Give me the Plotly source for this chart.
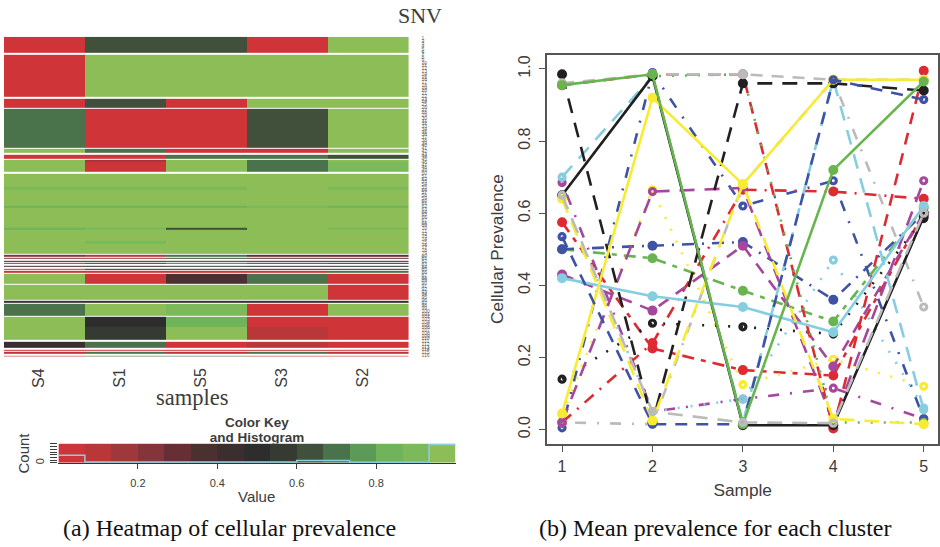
import plotly.graph_objects as go

W, H = 940, 547

# ---------- heatmap data ----------
samples_order = ["S4", "S1", "S5", "S3", "S2"]
row_labels = [str(i) for i in range(1, 117)]
band_heights = [16.5, 1.5, 42.5, 1.5, 9, 1.3, 39.7, 1, 4, 1.7, 4.3, 1, 2, 10, 1.7,
                13.3, 3, 16, 1.7, 20.3, 2, 11, 3, 10.3, 0.7,
                2.5, 1.2, 1, 1.3, 1, 1.5, 1, 1.5, 1.5, 1.5, 1, 1.5, 1.5, 1.3,
                9.7, 1, 15, 1.5, 1.5, 1.2, 12.1, 1.4, 10.3, 13, 1.5, 6.5, 1.7, 1.3, 1, 2, 1.5, 1]
heat_s4 = [.03, None, .03, None, .03, None, .70, None, .97, None, .03, None, .97, .97, None,
           .97, .90, .97, .83, .97, .83, .97, .97, .97, None,
           .23, None, .23, None, .50, None, .17, None, .43, None, .03, None, .03, None,
           .97, None, .97, None, .43, None, .70, None, .97, .97, None, .43, None, .03, None, .10, None, .03]
heat_s1 = [.63, None, .97, None, .63, None, .03, None, .70, None, .03, None, .17, .03, None,
           .97, .90, .97, .83, .97, .90, .97, .90, .97, None,
           .10, None, .17, None, .50, None, .57, None, .50, None, .50, None, .03, None,
           .03, None, .97, None, .43, None, .97, None, .50, .57, None, .70, None, .03, None, .70, None, .70]
heat_s5 = [.63, None, .97, None, .03, None, .03, None, .03, None, .70, None, .97, .97, None,
           .97, .90, .97, .83, .97, .63, .97, .97, .97, None,
           .70, None, .63, None, .57, None, .70, None, .57, None, .50, None, .03, None,
           .37, None, .97, None, .43, None, .90, None, .83, .97, None, .03, None, .03, None, .10, None, .70]
heat_s3 = [.03, None, .97, None, .97, None, .63, None, .03, None, .70, None, .70, .70, None,
           .97, .97, .97, .90, .97, .97, .97, .97, .97, None,
           .30, None, .30, None, .50, None, .30, None, .50, None, .50, None, .03, None,
           .70, None, .97, None, .43, None, .03, None, .03, .10, None, .10, None, .03, None, .70, None, .03]
heat_s2 = [.97, None, .97, None, .97, None, .97, None, .97, None, .63, None, .97, .90, None,
           .97, .90, .97, .83, .97, .90, .97, .97, .97, None,
           .30, None, .30, None, .50, None, .43, None, .50, None, .43, None, .70, None,
           .03, None, .03, None, .43, None, .97, None, .03, .03, None, .03, None, .03, None, .10, None, .03]

# ---------- colour key data ----------
key_colors = ["#CF3439", "#B93639", "#9F383B", "#84353A", "#672F33", "#4A3130", "#3A2E2F", "#2D2D2D",
              "#353B33", "#40503A", "#4A734B", "#5B9A57", "#6FB45A", "#7BB95B", "#8CBD57"]
key_values = [.03, .10, .17, .23, .30, .37, .43, .50, .57, .63, .70, .77, .83, .90, .97]
hist_counts = [.40, .05, .05, .05, .05, .05, .05, .05, .05, .13, .13, .03, .03, .03, .95, .95]
key_ticks = [0.2, 0.4, 0.6, 0.8]

# ---------- prevalence series: sample 1..5 ----------
samples = [1, 2, 3, 4, 5]
red_dash = [.955, .985, .985, .003, .995]
red_twodash = [.575, .225, .165, .15, .60]
red_dotdash = [.02, .24, .665, .66, .64]
blue_dotdash = [.005, .99, .62, .69, .03]
blue_longdot = [.50, .51, .52, .36, .60]
blue_dash = [.535, .015, .015, .97, .915]
purple_long = [.43, .33, .51, .175, .60]
purple_two = [.02, .66, .67, .02, .69]
purple_dot = [.685, .05, .085, .115, .03]
yellow_dot = [.04, .665, .125, .195, .12]
yellow_dash = [.64, .025, .68, .03, .015]
yellow_solid = [.045, .92, .68, .97, .97]
cyan_dot = [.65, .05, .085, .47, .06]
cyan_dash = [.70, .98, .02, .97, .055]
cyan_solid = [.42, .37, .34, .27, .62]
grey_dash = [.96, .985, .985, .97, .97]
grey_two = [.65, .05, .02, .018, .60]
grey_dotdash = [.02, .015, .68, .97, .34]
black_dot = [.14, .295, .285, .265, .585]
black_long = [.985, .02, .96, .96, .94]
black_solid = [.65, .98, .012, .012, .59]
green_dot = [.65, .98, .985, .02, .02]
green_long = [.50, .475, .385, .30, .615]
green_solid = [.955, .985, .015, .72, .965]

RED, BLUE, GREEN, PURPLE = "#DC2B33", "#3F52A6", "#68B54F", "#A5479C"
CYAN, YELLOW, BLACK, GREY = "#85CEE0", "#F8EC32", "#231F20", "#BBBBBB"
DOT = "2px,11px"
DASH = "12px,9px"
LONG = "15px,10px"
TWO = "12px,7px,5px,7px"
DOTDASH = "2px,11px,11px,11px"
LONGDOT = "12px,8px,2px,8px"
series = [
    (purple_dot, PURPLE, DOTDASH, "open"),
    (red_twodash, RED, TWO, "fill"),
    (blue_dotdash, BLUE, DOTDASH, "open"),
    (cyan_dot, CYAN, DOT, "open"),
    (yellow_dot, YELLOW, DOT, "open"),
    (black_dot, BLACK, DOT, "open"),
    (green_long, GREEN, TWO, "fill"),
    (red_dotdash, RED, LONGDOT, "fill"),
    (blue_longdot, BLUE, LONGDOT, "fill"),
    (purple_long, PURPLE, DASH, "fill"),
    (grey_dotdash, GREY, DOTDASH, "open"),
    (purple_two, PURPLE, LONG, "open"),
    (cyan_dash, CYAN, LONG, "open"),
    (red_dash, RED, DASH, "fill"),
    (green_dot, GREEN, DOT, "open"),
    (black_long, BLACK, LONG, "fill"),
    (grey_dash, GREY, DASH, "fill"),
    (black_solid, BLACK, "solid", "fill"),
    (cyan_solid, CYAN, "solid", "fill"),
    (yellow_solid, YELLOW, "solid", "fill"),
    (blue_dash, BLUE, DASH, "open"),
    (yellow_dash, YELLOW, LONG, "fill"),
    (green_solid, GREEN, "solid", "fill"),
    (grey_two, GREY, LONG, "open"),
]

def fx(px):
    return px / W

def fy(py):
    return 1 - py / H

# discrete colour scale
scale = []
for i, c in enumerate(key_colors):
    scale.append([i / 15, c])
    scale.append([(i + 1) / 15, c])

fig = go.Figure()

y_edges = [0]
for h in band_heights:
    y_edges.append(y_edges[-1] + h)
total = y_edges[-1]
z = [list(r) for r in zip(heat_s4, heat_s1, heat_s5, heat_s3, heat_s2)]
fig.add_trace(go.Heatmap(z=z, x=list(range(6)), y=y_edges, zmin=0, zmax=1, colorscale=scale,
                         showscale=False, hoverongaps=False, xaxis="x", yaxis="y"))

key_edges = [i / 15 for i in range(16)]
fig.add_trace(go.Heatmap(z=[key_values], x=key_edges, y=[0, 1], zmin=0, zmax=1, colorscale=scale,
                         showscale=False, xaxis="x2", yaxis="y2"))
fig.add_trace(go.Scatter(x=key_edges, y=hist_counts, mode="lines", xaxis="x2", yaxis="y2",
                         line=dict(color="#8CCFDC", width=1.5, shape="hv"), showlegend=False))

for vals, color, dash, kind in series:
    marker = (dict(size=10, color=color, symbol="circle") if kind == "fill"
              else dict(size=6, color=color, symbol="circle-open", line=dict(width=3.2, color=color)))
    fig.add_trace(go.Scatter(x=samples, y=vals, mode="lines+markers", xaxis="x3", yaxis="y3",
                             line=dict(color=color, width=2.6, dash=dash), marker=marker,
                             showlegend=False))

INK = "#3C3C3C"
SANS = "Liberation Sans"
SERIF = "Liberation Serif"

# second title line is cut off by the top edge of the key, so it lives in a clipping strip above the key
fig.add_trace(go.Scatter(x=[0.5], y=[0.36], mode="text", text=["<b>and Histogram</b>"], textposition="middle center",
                         textfont=dict(size=13.5, family=SANS, color=INK), cliponaxis=True,
                         xaxis="x4", yaxis="y4", showlegend=False))

row_pos = [(i + 0.5) * total / len(row_labels) for i in range(len(row_labels))]

annotations = []

def note(text, x, y, size, family=SANS, color=INK, angle=0, bold=False):
    annotations.append(dict(text=f"<b>{text}</b>" if bold else text, x=fx(x), y=fy(y), xref="paper", yref="paper",
                            showarrow=False, xanchor="center", yanchor="middle", textangle=angle,
                            font=dict(size=size, family=family, color=color)))

note("SNV", 420, 14, 22, SERIF)
note("samples", 193, 398, 22.5, SERIF)
note("Color Key", 257, 423, 13.5, bold=True)
note("Count", 24, 453, 15, angle=-90)
note("Value", 257, 497, 15)
note("(a) Heatmap of cellular prevalence", 230, 529, 24, SERIF, "#111111")
note("(b) Mean prevalence for each cluster", 716, 529, 24, SERIF, "#111111")
for name, px in zip(samples_order, [39, 120, 201, 282, 363]):
    note(name, px, 378, 16, angle=-90)

fig.update_layout(
    width=W, height=H, autosize=False, margin=dict(l=0, r=0, t=0, b=0),
    paper_bgcolor="white", plot_bgcolor="white", showlegend=False,
    annotations=annotations,
    xaxis=dict(domain=[fx(4), fx(409)], range=[0, 5], visible=False),
    yaxis=dict(domain=[fy(356.5), fy(35)], range=[total, 0], side="right", showgrid=False, zeroline=False,
               tickvals=row_pos, ticktext=row_labels, tickfont=dict(size=5, family=SANS, color="#666666"),
               ticks="", ticklabelstandoff=12, showline=False, anchor="x"),
    xaxis2=dict(domain=[fx(58.5), fx(456)], range=[0, 1], tickvals=key_ticks, ticks="outside", ticklen=5,
                tickcolor=INK, showgrid=False, zeroline=False, showline=True, linecolor="#333333", linewidth=1.2,
                tickfont=dict(size=11, family=SANS, color=INK), anchor="y2", ticklabelstandoff=5),
    yaxis2=dict(domain=[fy(463.5), fy(444)], range=[0, 1], tickvals=[0, .14, .28, .42, .56, .70, .84, .98],
                ticktext=["0", "", "", "", "", "", "", ""], ticks="outside", ticklen=7, tickcolor=INK, tickwidth=1,
                tickangle=-90, showgrid=False, zeroline=False, tickfont=dict(size=11, family=SANS, color=INK),
                anchor="x2", ticklabelstandoff=2),
    xaxis3=dict(domain=[fx(548), fx(939)], range=[0.838, 5.158], tickvals=samples, ticks="outside", ticklen=7,
                tickcolor="#555555", tickwidth=1.2, showgrid=False, zeroline=False, showline=True, mirror=True,
                linecolor="#555555", linewidth=1.5, tickfont=dict(size=16, family=SANS, color=INK), anchor="y3",
                title=dict(text="Sample", standoff=10, font=dict(size=17.3, family=SANS, color=INK))),
    yaxis3=dict(domain=[fy(444), fy(53)], range=[-0.0386, 1.0394], tickvals=[0, .2, .4, .6, .8, 1],
                ticktext=["0.0", "0.2", "0.4", "0.6", "0.8", "1.0"], tickangle=-90, ticks="outside", ticklen=7,
                tickcolor="#555555", tickwidth=1.2, showgrid=False, zeroline=False, showline=True, mirror=True,
                linecolor="#555555", linewidth=1.5, tickfont=dict(size=16, family=SANS, color=INK), anchor="x3",
                ticklabelstandoff=2,
                title=dict(text="Cellular Prevalence", standoff=8, font=dict(size=17.3, family=SANS, color=INK))),
    xaxis4=dict(domain=[fx(58.5), fx(456)], range=[0, 1], visible=False, anchor="y4"),
    yaxis4=dict(domain=[fy(444), fy(430)], range=[0, 1], visible=False, anchor="x4"),
)

fig.write_html("out.html", post_script="document.body.style.margin='0';", config=dict(displayModeBar=False))
